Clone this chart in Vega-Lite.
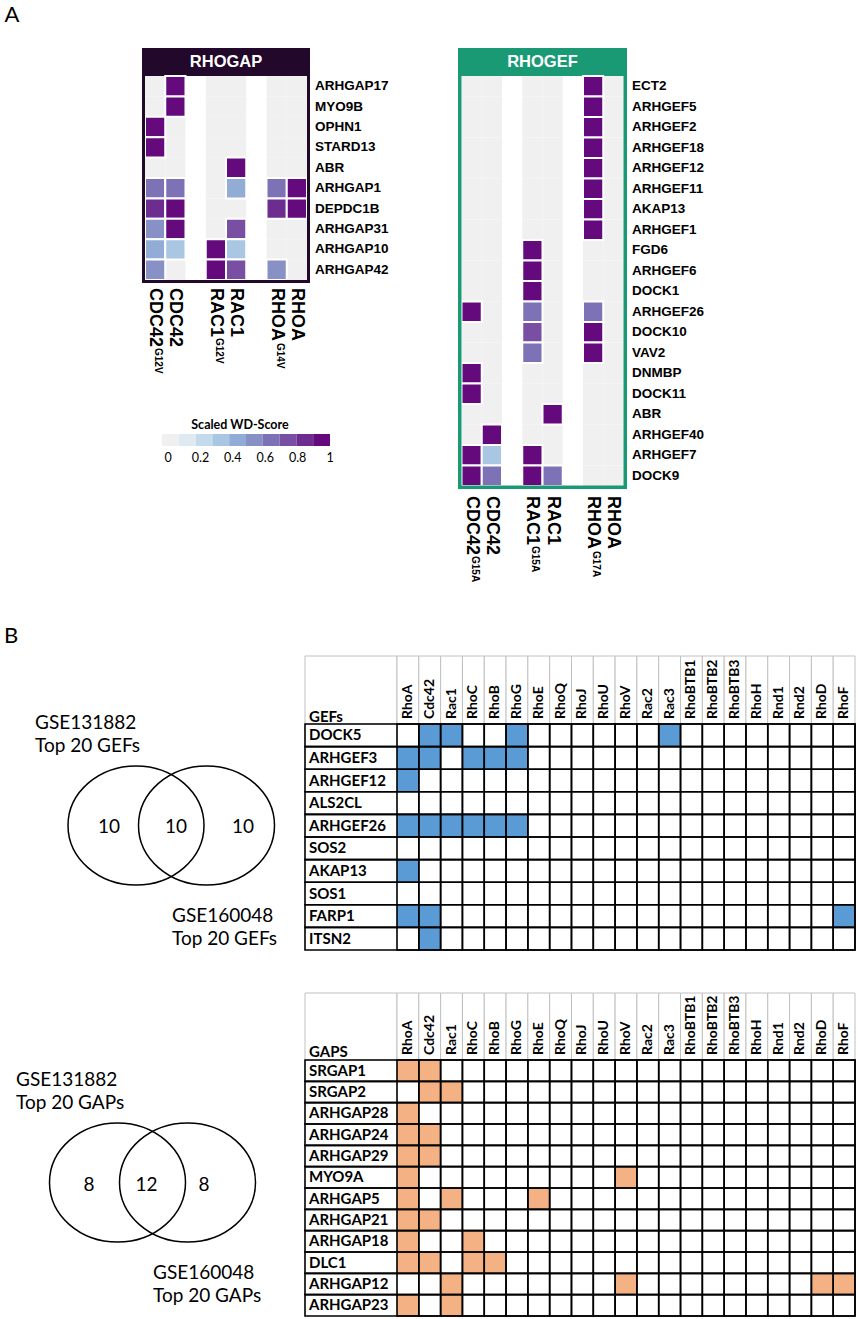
{
"$schema":"https://vega.github.io/schema/vega-lite/v6.json",
"width":858,"height":1319,
"autosize":{"type":"none"},
"padding":0,
"background":"white",
"config":{"view":{"stroke":null}},
"resolve":{"scale":{"x":"independent","y":"independent","color":"independent"}},
"datasets":{
"gapCells":[
{"gene":"ARHGAP17","col":"CDC42 G12V","v":0},{"gene":"ARHGAP17","col":"CDC42","v":1},{"gene":"ARHGAP17","col":"RAC1 G12V","v":0},{"gene":"ARHGAP17","col":"RAC1","v":0},{"gene":"ARHGAP17","col":"RHOA G14V","v":0},{"gene":"ARHGAP17","col":"RHOA","v":0},
{"gene":"MYO9B","col":"CDC42 G12V","v":0},{"gene":"MYO9B","col":"CDC42","v":1},{"gene":"MYO9B","col":"RAC1 G12V","v":0},{"gene":"MYO9B","col":"RAC1","v":0},{"gene":"MYO9B","col":"RHOA G14V","v":0},{"gene":"MYO9B","col":"RHOA","v":0},
{"gene":"OPHN1","col":"CDC42 G12V","v":1},{"gene":"OPHN1","col":"CDC42","v":0},{"gene":"OPHN1","col":"RAC1 G12V","v":0},{"gene":"OPHN1","col":"RAC1","v":0},{"gene":"OPHN1","col":"RHOA G14V","v":0},{"gene":"OPHN1","col":"RHOA","v":0},
{"gene":"STARD13","col":"CDC42 G12V","v":1},{"gene":"STARD13","col":"CDC42","v":0},{"gene":"STARD13","col":"RAC1 G12V","v":0},{"gene":"STARD13","col":"RAC1","v":0},{"gene":"STARD13","col":"RHOA G14V","v":0},{"gene":"STARD13","col":"RHOA","v":0},
{"gene":"ABR","col":"CDC42 G12V","v":0},{"gene":"ABR","col":"CDC42","v":0},{"gene":"ABR","col":"RAC1 G12V","v":0},{"gene":"ABR","col":"RAC1","v":1},{"gene":"ABR","col":"RHOA G14V","v":0},{"gene":"ABR","col":"RHOA","v":0},
{"gene":"ARHGAP1","col":"CDC42 G12V","v":0.68},{"gene":"ARHGAP1","col":"CDC42","v":0.62},{"gene":"ARHGAP1","col":"RAC1 G12V","v":0},{"gene":"ARHGAP1","col":"RAC1","v":0.4},{"gene":"ARHGAP1","col":"RHOA G14V","v":0.68},{"gene":"ARHGAP1","col":"RHOA","v":1},
{"gene":"DEPDC1B","col":"CDC42 G12V","v":0.82},{"gene":"DEPDC1B","col":"CDC42","v":1},{"gene":"DEPDC1B","col":"RAC1 G12V","v":0},{"gene":"DEPDC1B","col":"RAC1","v":0},{"gene":"DEPDC1B","col":"RHOA G14V","v":0.82},{"gene":"DEPDC1B","col":"RHOA","v":1},
{"gene":"ARHGAP31","col":"CDC42 G12V","v":0.52},{"gene":"ARHGAP31","col":"CDC42","v":1},{"gene":"ARHGAP31","col":"RAC1 G12V","v":0},{"gene":"ARHGAP31","col":"RAC1","v":0.75},{"gene":"ARHGAP31","col":"RHOA G14V","v":0},{"gene":"ARHGAP31","col":"RHOA","v":0},
{"gene":"ARHGAP10","col":"CDC42 G12V","v":0.45},{"gene":"ARHGAP10","col":"CDC42","v":0.32},{"gene":"ARHGAP10","col":"RAC1 G12V","v":1},{"gene":"ARHGAP10","col":"RAC1","v":0.38},{"gene":"ARHGAP10","col":"RHOA G14V","v":0},{"gene":"ARHGAP10","col":"RHOA","v":0},
{"gene":"ARHGAP42","col":"CDC42 G12V","v":0.55},{"gene":"ARHGAP42","col":"CDC42","v":0},{"gene":"ARHGAP42","col":"RAC1 G12V","v":1},{"gene":"ARHGAP42","col":"RAC1","v":0.75},{"gene":"ARHGAP42","col":"RHOA G14V","v":0.55},{"gene":"ARHGAP42","col":"RHOA","v":0}
],
"gefCells":[
{"gene":"ECT2","col":"CDC42 G15A","v":0},{"gene":"ECT2","col":"CDC42","v":0},{"gene":"ECT2","col":"RAC1 G15A","v":0},{"gene":"ECT2","col":"RAC1","v":0},{"gene":"ECT2","col":"RHOA G17A","v":1},{"gene":"ECT2","col":"RHOA","v":0},
{"gene":"ARHGEF5","col":"CDC42 G15A","v":0},{"gene":"ARHGEF5","col":"CDC42","v":0},{"gene":"ARHGEF5","col":"RAC1 G15A","v":0},{"gene":"ARHGEF5","col":"RAC1","v":0},{"gene":"ARHGEF5","col":"RHOA G17A","v":1},{"gene":"ARHGEF5","col":"RHOA","v":0},
{"gene":"ARHGEF2","col":"CDC42 G15A","v":0},{"gene":"ARHGEF2","col":"CDC42","v":0},{"gene":"ARHGEF2","col":"RAC1 G15A","v":0},{"gene":"ARHGEF2","col":"RAC1","v":0},{"gene":"ARHGEF2","col":"RHOA G17A","v":1},{"gene":"ARHGEF2","col":"RHOA","v":0},
{"gene":"ARHGEF18","col":"CDC42 G15A","v":0},{"gene":"ARHGEF18","col":"CDC42","v":0},{"gene":"ARHGEF18","col":"RAC1 G15A","v":0},{"gene":"ARHGEF18","col":"RAC1","v":0},{"gene":"ARHGEF18","col":"RHOA G17A","v":1},{"gene":"ARHGEF18","col":"RHOA","v":0},
{"gene":"ARHGEF12","col":"CDC42 G15A","v":0},{"gene":"ARHGEF12","col":"CDC42","v":0},{"gene":"ARHGEF12","col":"RAC1 G15A","v":0},{"gene":"ARHGEF12","col":"RAC1","v":0},{"gene":"ARHGEF12","col":"RHOA G17A","v":1},{"gene":"ARHGEF12","col":"RHOA","v":0},
{"gene":"ARHGEF11","col":"CDC42 G15A","v":0},{"gene":"ARHGEF11","col":"CDC42","v":0},{"gene":"ARHGEF11","col":"RAC1 G15A","v":0},{"gene":"ARHGEF11","col":"RAC1","v":0},{"gene":"ARHGEF11","col":"RHOA G17A","v":1},{"gene":"ARHGEF11","col":"RHOA","v":0},
{"gene":"AKAP13","col":"CDC42 G15A","v":0},{"gene":"AKAP13","col":"CDC42","v":0},{"gene":"AKAP13","col":"RAC1 G15A","v":0},{"gene":"AKAP13","col":"RAC1","v":0},{"gene":"AKAP13","col":"RHOA G17A","v":1},{"gene":"AKAP13","col":"RHOA","v":0},
{"gene":"ARHGEF1","col":"CDC42 G15A","v":0},{"gene":"ARHGEF1","col":"CDC42","v":0},{"gene":"ARHGEF1","col":"RAC1 G15A","v":0},{"gene":"ARHGEF1","col":"RAC1","v":0},{"gene":"ARHGEF1","col":"RHOA G17A","v":1},{"gene":"ARHGEF1","col":"RHOA","v":0},
{"gene":"FGD6","col":"CDC42 G15A","v":0},{"gene":"FGD6","col":"CDC42","v":0},{"gene":"FGD6","col":"RAC1 G15A","v":1},{"gene":"FGD6","col":"RAC1","v":0},{"gene":"FGD6","col":"RHOA G17A","v":0},{"gene":"FGD6","col":"RHOA","v":0},
{"gene":"ARHGEF6","col":"CDC42 G15A","v":0},{"gene":"ARHGEF6","col":"CDC42","v":0},{"gene":"ARHGEF6","col":"RAC1 G15A","v":1},{"gene":"ARHGEF6","col":"RAC1","v":0},{"gene":"ARHGEF6","col":"RHOA G17A","v":0},{"gene":"ARHGEF6","col":"RHOA","v":0},
{"gene":"DOCK1","col":"CDC42 G15A","v":0},{"gene":"DOCK1","col":"CDC42","v":0},{"gene":"DOCK1","col":"RAC1 G15A","v":1},{"gene":"DOCK1","col":"RAC1","v":0},{"gene":"DOCK1","col":"RHOA G17A","v":0},{"gene":"DOCK1","col":"RHOA","v":0},
{"gene":"ARHGEF26","col":"CDC42 G15A","v":1},{"gene":"ARHGEF26","col":"CDC42","v":0},{"gene":"ARHGEF26","col":"RAC1 G15A","v":0.65},{"gene":"ARHGEF26","col":"RAC1","v":0},{"gene":"ARHGEF26","col":"RHOA G17A","v":0.65},{"gene":"ARHGEF26","col":"RHOA","v":0},
{"gene":"DOCK10","col":"CDC42 G15A","v":0},{"gene":"DOCK10","col":"CDC42","v":0},{"gene":"DOCK10","col":"RAC1 G15A","v":0.75},{"gene":"DOCK10","col":"RAC1","v":0},{"gene":"DOCK10","col":"RHOA G17A","v":1},{"gene":"DOCK10","col":"RHOA","v":0},
{"gene":"VAV2","col":"CDC42 G15A","v":0},{"gene":"VAV2","col":"CDC42","v":0},{"gene":"VAV2","col":"RAC1 G15A","v":0.6},{"gene":"VAV2","col":"RAC1","v":0},{"gene":"VAV2","col":"RHOA G17A","v":1},{"gene":"VAV2","col":"RHOA","v":0},
{"gene":"DNMBP","col":"CDC42 G15A","v":1},{"gene":"DNMBP","col":"CDC42","v":0},{"gene":"DNMBP","col":"RAC1 G15A","v":0},{"gene":"DNMBP","col":"RAC1","v":0},{"gene":"DNMBP","col":"RHOA G17A","v":0},{"gene":"DNMBP","col":"RHOA","v":0},
{"gene":"DOCK11","col":"CDC42 G15A","v":1},{"gene":"DOCK11","col":"CDC42","v":0},{"gene":"DOCK11","col":"RAC1 G15A","v":0},{"gene":"DOCK11","col":"RAC1","v":0},{"gene":"DOCK11","col":"RHOA G17A","v":0},{"gene":"DOCK11","col":"RHOA","v":0},
{"gene":"ABR","col":"CDC42 G15A","v":0},{"gene":"ABR","col":"CDC42","v":0},{"gene":"ABR","col":"RAC1 G15A","v":0},{"gene":"ABR","col":"RAC1","v":1},{"gene":"ABR","col":"RHOA G17A","v":0},{"gene":"ABR","col":"RHOA","v":0},
{"gene":"ARHGEF40","col":"CDC42 G15A","v":0},{"gene":"ARHGEF40","col":"CDC42","v":1},{"gene":"ARHGEF40","col":"RAC1 G15A","v":0},{"gene":"ARHGEF40","col":"RAC1","v":0},{"gene":"ARHGEF40","col":"RHOA G17A","v":0},{"gene":"ARHGEF40","col":"RHOA","v":0},
{"gene":"ARHGEF7","col":"CDC42 G15A","v":1},{"gene":"ARHGEF7","col":"CDC42","v":0.35},{"gene":"ARHGEF7","col":"RAC1 G15A","v":1},{"gene":"ARHGEF7","col":"RAC1","v":0},{"gene":"ARHGEF7","col":"RHOA G17A","v":0},{"gene":"ARHGEF7","col":"RHOA","v":0},
{"gene":"DOCK9","col":"CDC42 G15A","v":1},{"gene":"DOCK9","col":"CDC42","v":0.6},{"gene":"DOCK9","col":"RAC1 G15A","v":1},{"gene":"DOCK9","col":"RAC1","v":0.62},{"gene":"DOCK9","col":"RHOA G17A","v":0},{"gene":"DOCK9","col":"RHOA","v":0}
],
"gapCols":[{"col":"CDC42 G12V","base":"CDC42","mut":"G12V"},{"col":"CDC42","base":"CDC42","mut":""},{"col":"RAC1 G12V","base":"RAC1","mut":"G12V"},{"col":"RAC1","base":"RAC1","mut":""},{"col":"RHOA G14V","base":"RHOA","mut":"G14V"},{"col":"RHOA","base":"RHOA","mut":""}],
"gefCols":[{"col":"CDC42 G15A","base":"CDC42","mut":"G15A"},{"col":"CDC42","base":"CDC42","mut":""},{"col":"RAC1 G15A","base":"RAC1","mut":"G15A"},{"col":"RAC1","base":"RAC1","mut":""},{"col":"RHOA G17A","base":"RHOA","mut":"G17A"},{"col":"RHOA","base":"RHOA","mut":""}],
"gtp":[{"c":"RhoA"},{"c":"Cdc42"},{"c":"Rac1"},{"c":"RhoC"},{"c":"RhoB"},{"c":"RhoG"},{"c":"RhoE"},{"c":"RhoQ"},{"c":"RhoJ"},{"c":"RhoU"},{"c":"RhoV"},{"c":"Rac2"},{"c":"Rac3"},{"c":"RhoBTB1"},{"c":"RhoBTB2"},{"c":"RhoBTB3"},{"c":"RhoH"},{"c":"Rnd1"},{"c":"Rnd2"},{"c":"RhoD"},{"c":"RhoF"}],
"gefGenes":[{"g":"DOCK5"},{"g":"ARHGEF3"},{"g":"ARHGEF12"},{"g":"ALS2CL"},{"g":"ARHGEF26"},{"g":"SOS2"},{"g":"AKAP13"},{"g":"SOS1"},{"g":"FARP1"},{"g":"ITSN2"}],
"gapGenes":[{"g":"SRGAP1"},{"g":"SRGAP2"},{"g":"ARHGAP28"},{"g":"ARHGAP24"},{"g":"ARHGAP29"},{"g":"MYO9A"},{"g":"ARHGAP5"},{"g":"ARHGAP21"},{"g":"ARHGAP18"},{"g":"DLC1"},{"g":"ARHGAP12"},{"g":"ARHGAP23"}],
"gefPos":[{"g":"DOCK5","c":"Cdc42"},{"g":"DOCK5","c":"Rac1"},{"g":"DOCK5","c":"RhoG"},{"g":"DOCK5","c":"Rac3"},
{"g":"ARHGEF3","c":"RhoA"},{"g":"ARHGEF3","c":"Cdc42"},{"g":"ARHGEF3","c":"RhoC"},{"g":"ARHGEF3","c":"RhoB"},{"g":"ARHGEF3","c":"RhoG"},
{"g":"ARHGEF12","c":"RhoA"},
{"g":"ARHGEF26","c":"RhoA"},{"g":"ARHGEF26","c":"Cdc42"},{"g":"ARHGEF26","c":"Rac1"},{"g":"ARHGEF26","c":"RhoC"},{"g":"ARHGEF26","c":"RhoB"},{"g":"ARHGEF26","c":"RhoG"},
{"g":"AKAP13","c":"RhoA"},
{"g":"FARP1","c":"RhoA"},{"g":"FARP1","c":"Cdc42"},{"g":"FARP1","c":"RhoF"},
{"g":"ITSN2","c":"Cdc42"}],
"gapPos":[{"g":"SRGAP1","c":"RhoA"},{"g":"SRGAP1","c":"Cdc42"},
{"g":"SRGAP2","c":"Cdc42"},{"g":"SRGAP2","c":"Rac1"},
{"g":"ARHGAP28","c":"RhoA"},
{"g":"ARHGAP24","c":"RhoA"},{"g":"ARHGAP24","c":"Cdc42"},
{"g":"ARHGAP29","c":"RhoA"},{"g":"ARHGAP29","c":"Cdc42"},
{"g":"MYO9A","c":"RhoA"},{"g":"MYO9A","c":"RhoV"},
{"g":"ARHGAP5","c":"RhoA"},{"g":"ARHGAP5","c":"Rac1"},{"g":"ARHGAP5","c":"RhoE"},
{"g":"ARHGAP21","c":"RhoA"},{"g":"ARHGAP21","c":"Cdc42"},
{"g":"ARHGAP18","c":"RhoA"},{"g":"ARHGAP18","c":"RhoC"},
{"g":"DLC1","c":"RhoA"},{"g":"DLC1","c":"Cdc42"},{"g":"DLC1","c":"RhoC"},{"g":"DLC1","c":"RhoB"},
{"g":"ARHGAP12","c":"Rac1"},{"g":"ARHGAP12","c":"RhoV"},{"g":"ARHGAP12","c":"RhoD"},{"g":"ARHGAP12","c":"RhoF"},
{"g":"ARHGAP23","c":"RhoA"},{"g":"ARHGAP23","c":"Rac1"}]
},
"layer":[
{"data":{"values":[{"panel":"A"},{"panel":"B"}]},"mark":{"type":"text","font":"Lato","fontSize":22,"color":"black","baseline":"middle","align":"center"},
 "encoding":{"text":{"field":"panel"},"x":{"field":"panel","type":"nominal","scale":{"type":"point","domain":["A","B"],"range":[12,11],"padding":0},"axis":null},"y":{"field":"panel","type":"nominal","scale":{"type":"point","domain":["A","B"],"range":[15,636],"padding":0},"axis":null}}},

{"data":{"values":[{"panel":"RHOGAP"}]},"mark":{"type":"rect","fill":"#22082b"},
 "encoding":{"x":{"field":"panel","type":"nominal","scale":{"type":"band","domain":["RHOGAP"],"range":[142,310],"paddingInner":0,"paddingOuter":0},"axis":null},"y":{"field":"panel","type":"nominal","scale":{"type":"band","domain":["RHOGAP"],"range":[48,76],"paddingInner":0,"paddingOuter":0},"axis":null}}},
{"data":{"values":[{"panel":"RHOGAP"}]},"mark":{"type":"text","color":"white","font":"Liberation Sans","fontWeight":"bold","fontSize":16.5,"baseline":"middle","align":"center"},
 "encoding":{"text":{"field":"panel"},"x":{"field":"panel","type":"nominal","scale":{"type":"band","domain":["RHOGAP"],"range":[142,310],"paddingInner":0,"paddingOuter":0},"axis":null},"y":{"field":"panel","type":"nominal","scale":{"type":"band","domain":["RHOGAP"],"range":[48,76],"paddingInner":0,"paddingOuter":0},"axis":null}}},
{"data":{"name":"gapCells"},"transform":[{"filter":"datum.v==0"}],"mark":{"type":"rect"},
 "encoding":{"x":{"field":"col","type":"nominal","scale":{"type":"band","domain":["CDC42 G12V","CDC42","gap1","RAC1 G12V","RAC1","gap2","RHOA G14V","RHOA"],"range":[145,307],"paddingInner":0,"paddingOuter":0},"axis":null},
  "y":{"field":"gene","type":"nominal","scale":{"type":"band","domain":["ARHGAP17","MYO9B","OPHN1","STARD13","ABR","ARHGAP1","DEPDC1B","ARHGAP31","ARHGAP10","ARHGAP42"],"range":[76,280],"paddingInner":0,"paddingOuter":0},"axis":null},
  "color":{"field":"v","type":"quantitative","scale":{"type":"quantize","domain":[0,1],"nice":false,"zero":false,"range":["#f0f0f0","#dfe9f1","#c4dbeb","#a9c6e2","#93acd5","#8791c6","#7e72b6","#784fa2","#6d2c90","#640a7c"]},"legend":null}}},
{"data":{"name":"gapCells"},"transform":[{"filter":"datum.v>0"}],"mark":{"type":"rect","stroke":"white","strokeWidth":2},
 "encoding":{"x":{"field":"col","type":"nominal","scale":{"type":"band","domain":["CDC42 G12V","CDC42","gap1","RAC1 G12V","RAC1","gap2","RHOA G14V","RHOA"],"range":[145,307],"paddingInner":0,"paddingOuter":0},"axis":null},
  "y":{"field":"gene","type":"nominal","scale":{"type":"band","domain":["ARHGAP17","MYO9B","OPHN1","STARD13","ABR","ARHGAP1","DEPDC1B","ARHGAP31","ARHGAP10","ARHGAP42"],"range":[76,280],"paddingInner":0,"paddingOuter":0},"axis":null},
  "color":{"field":"v","type":"quantitative","scale":{"type":"quantize","domain":[0,1],"nice":false,"zero":false,"range":["#f0f0f0","#dfe9f1","#c4dbeb","#a9c6e2","#93acd5","#8791c6","#7e72b6","#784fa2","#6d2c90","#640a7c"]},"legend":null}}},
{"data":{"values":[{"panel":"RHOGAP"}]},"mark":{"type":"rect","fill":"transparent","stroke":"#22082b","strokeWidth":3},
 "encoding":{"x":{"field":"panel","type":"nominal","scale":{"type":"band","domain":["RHOGAP"],"range":[143.5,308.5],"paddingInner":0,"paddingOuter":0},"axis":null},"y":{"field":"panel","type":"nominal","scale":{"type":"band","domain":["RHOGAP"],"range":[49.5,281.5],"paddingInner":0,"paddingOuter":0},"axis":null}}},
{"data":{"name":"gapCells"},"transform":[{"filter":"datum.col=='RHOA'"}],"mark":{"type":"text","align":"left","baseline":"middle","font":"Liberation Sans","fontWeight":"bold","fontSize":13.5,"color":"black"},
 "encoding":{"text":{"field":"gene"},"x":{"datum":"labels","type":"nominal","scale":{"type":"point","domain":["labels"],"range":[315,315],"padding":0},"axis":null},
  "y":{"field":"gene","type":"nominal","scale":{"type":"band","domain":["ARHGAP17","MYO9B","OPHN1","STARD13","ABR","ARHGAP1","DEPDC1B","ARHGAP31","ARHGAP10","ARHGAP42"],"range":[76,280],"paddingInner":0,"paddingOuter":0},"axis":null}}},
{"data":{"name":"gapCols"},"mark":{"type":"text","angle":90,"align":"left","baseline":"middle","font":"Liberation Sans","fontWeight":"bold","fontSize":18,"color":"black"},
 "encoding":{"text":{"field":"base"},"x":{"field":"col","type":"nominal","scale":{"type":"band","domain":["CDC42 G12V","CDC42","gap1","RAC1 G12V","RAC1","gap2","RHOA G14V","RHOA"],"range":[145,307],"paddingInner":0,"paddingOuter":0},"axis":null},
  "y":{"datum":"labels","type":"nominal","scale":{"type":"point","domain":["labels"],"range":[288,288],"padding":0},"axis":null}}},
{"data":{"name":"gapCols"},"transform":[{"filter":"datum.mut!=''"}],"mark":{"type":"text","angle":90,"align":"left","baseline":"middle","font":"Liberation Sans","fontWeight":"bold","fontSize":10,"dy":-3,"color":"black"},
 "encoding":{"text":{"field":"mut"},"x":{"field":"col","type":"nominal","scale":{"type":"band","domain":["CDC42 G12V","CDC42","gap1","RAC1 G12V","RAC1","gap2","RHOA G14V","RHOA"],"range":[145,307],"paddingInner":0,"paddingOuter":0},"axis":null},
  "y":{"field":"base","type":"nominal","scale":{"type":"point","domain":["RAC1","RHOA","CDC42"],"range":[338,348],"padding":0},"axis":null}}},

{"data":{"values":[{"panel":"RHOGEF"}]},"mark":{"type":"rect","fill":"#1a9a74"},
 "encoding":{"x":{"field":"panel","type":"nominal","scale":{"type":"band","domain":["RHOGEF"],"range":[458,627],"paddingInner":0,"paddingOuter":0},"axis":null},"y":{"field":"panel","type":"nominal","scale":{"type":"band","domain":["RHOGEF"],"range":[48,76],"paddingInner":0,"paddingOuter":0},"axis":null}}},
{"data":{"values":[{"panel":"RHOGEF"}]},"mark":{"type":"text","color":"white","font":"Liberation Sans","fontWeight":"bold","fontSize":16.5,"baseline":"middle","align":"center"},
 "encoding":{"text":{"field":"panel"},"x":{"field":"panel","type":"nominal","scale":{"type":"band","domain":["RHOGEF"],"range":[458,627],"paddingInner":0,"paddingOuter":0},"axis":null},"y":{"field":"panel","type":"nominal","scale":{"type":"band","domain":["RHOGEF"],"range":[48,76],"paddingInner":0,"paddingOuter":0},"axis":null}}},
{"data":{"name":"gefCells"},"transform":[{"filter":"datum.v==0"}],"mark":{"type":"rect"},
 "encoding":{"x":{"field":"col","type":"nominal","scale":{"type":"band","domain":["CDC42 G15A","CDC42","gap1","RAC1 G15A","RAC1","gap2","RHOA G17A","RHOA"],"range":[461.5,623.5],"paddingInner":0,"paddingOuter":0},"axis":null},
  "y":{"field":"gene","type":"nominal","scale":{"type":"band","domain":["ECT2","ARHGEF5","ARHGEF2","ARHGEF18","ARHGEF12","ARHGEF11","AKAP13","ARHGEF1","FGD6","ARHGEF6","DOCK1","ARHGEF26","DOCK10","VAV2","DNMBP","DOCK11","ABR","ARHGEF40","ARHGEF7","DOCK9"],"range":[76,486],"paddingInner":0,"paddingOuter":0},"axis":null},
  "color":{"field":"v","type":"quantitative","scale":{"type":"quantize","domain":[0,1],"nice":false,"zero":false,"range":["#f0f0f0","#dfe9f1","#c4dbeb","#a9c6e2","#93acd5","#8791c6","#7e72b6","#784fa2","#6d2c90","#640a7c"]},"legend":null}}},
{"data":{"name":"gefCells"},"transform":[{"filter":"datum.v>0"}],"mark":{"type":"rect","stroke":"white","strokeWidth":2},
 "encoding":{"x":{"field":"col","type":"nominal","scale":{"type":"band","domain":["CDC42 G15A","CDC42","gap1","RAC1 G15A","RAC1","gap2","RHOA G17A","RHOA"],"range":[461.5,623.5],"paddingInner":0,"paddingOuter":0},"axis":null},
  "y":{"field":"gene","type":"nominal","scale":{"type":"band","domain":["ECT2","ARHGEF5","ARHGEF2","ARHGEF18","ARHGEF12","ARHGEF11","AKAP13","ARHGEF1","FGD6","ARHGEF6","DOCK1","ARHGEF26","DOCK10","VAV2","DNMBP","DOCK11","ABR","ARHGEF40","ARHGEF7","DOCK9"],"range":[76,486],"paddingInner":0,"paddingOuter":0},"axis":null},
  "color":{"field":"v","type":"quantitative","scale":{"type":"quantize","domain":[0,1],"nice":false,"zero":false,"range":["#f0f0f0","#dfe9f1","#c4dbeb","#a9c6e2","#93acd5","#8791c6","#7e72b6","#784fa2","#6d2c90","#640a7c"]},"legend":null}}},
{"data":{"values":[{"panel":"RHOGEF"}]},"mark":{"type":"rect","fill":"transparent","stroke":"#1a9a74","strokeWidth":3.5},
 "encoding":{"x":{"field":"panel","type":"nominal","scale":{"type":"band","domain":["RHOGEF"],"range":[459.75,625.25],"paddingInner":0,"paddingOuter":0},"axis":null},"y":{"field":"panel","type":"nominal","scale":{"type":"band","domain":["RHOGEF"],"range":[49.75,487.25],"paddingInner":0,"paddingOuter":0},"axis":null}}},
{"data":{"name":"gefCells"},"transform":[{"filter":"datum.col=='RHOA'"}],"mark":{"type":"text","align":"left","baseline":"middle","font":"Liberation Sans","fontWeight":"bold","fontSize":13.5,"color":"black"},
 "encoding":{"text":{"field":"gene"},"x":{"datum":"labels","type":"nominal","scale":{"type":"point","domain":["labels"],"range":[632,632],"padding":0},"axis":null},
  "y":{"field":"gene","type":"nominal","scale":{"type":"band","domain":["ECT2","ARHGEF5","ARHGEF2","ARHGEF18","ARHGEF12","ARHGEF11","AKAP13","ARHGEF1","FGD6","ARHGEF6","DOCK1","ARHGEF26","DOCK10","VAV2","DNMBP","DOCK11","ABR","ARHGEF40","ARHGEF7","DOCK9"],"range":[76,486],"paddingInner":0,"paddingOuter":0},"axis":null}}},
{"data":{"name":"gefCols"},"mark":{"type":"text","angle":90,"align":"left","baseline":"middle","font":"Liberation Sans","fontWeight":"bold","fontSize":18,"color":"black"},
 "encoding":{"text":{"field":"base"},"x":{"field":"col","type":"nominal","scale":{"type":"band","domain":["CDC42 G15A","CDC42","gap1","RAC1 G15A","RAC1","gap2","RHOA G17A","RHOA"],"range":[461.5,623.5],"paddingInner":0,"paddingOuter":0},"axis":null},
  "y":{"datum":"labels","type":"nominal","scale":{"type":"point","domain":["labels"],"range":[496,496],"padding":0},"axis":null}}},
{"data":{"name":"gefCols"},"transform":[{"filter":"datum.mut!=''"}],"mark":{"type":"text","angle":90,"align":"left","baseline":"middle","font":"Liberation Sans","fontWeight":"bold","fontSize":10,"dy":-3,"color":"black"},
 "encoding":{"text":{"field":"mut"},"x":{"field":"col","type":"nominal","scale":{"type":"band","domain":["CDC42 G15A","CDC42","gap1","RAC1 G15A","RAC1","gap2","RHOA G17A","RHOA"],"range":[461.5,623.5],"paddingInner":0,"paddingOuter":0},"axis":null},
  "y":{"field":"base","type":"nominal","scale":{"type":"point","domain":["RAC1","RHOA","CDC42"],"range":[546,556],"padding":0},"axis":null}}},

{"data":{"values":[{"lo":0,"hi":0.1,"v":0.05},{"lo":0.1,"hi":0.2,"v":0.15},{"lo":0.2,"hi":0.3,"v":0.25},{"lo":0.3,"hi":0.4,"v":0.35},{"lo":0.4,"hi":0.5,"v":0.45},{"lo":0.5,"hi":0.6,"v":0.55},{"lo":0.6,"hi":0.7,"v":0.65},{"lo":0.7,"hi":0.8,"v":0.75},{"lo":0.8,"hi":0.9,"v":0.85},{"lo":0.9,"hi":1,"v":0.95}]},"mark":{"type":"rect"},
 "encoding":{"x":{"field":"lo","type":"quantitative","scale":{"domain":[0,1],"range":[162,330],"nice":false,"zero":false},"axis":null},"x2":{"field":"hi"},
  "y":{"datum":"bar","type":"nominal","scale":{"type":"band","domain":["bar"],"range":[434,446],"paddingInner":0,"paddingOuter":0},"axis":null},
  "color":{"field":"v","type":"quantitative","scale":{"type":"quantize","domain":[0,1],"nice":false,"zero":false,"range":["#f0f0f0","#dfe9f1","#c4dbeb","#a9c6e2","#93acd5","#8791c6","#7e72b6","#784fa2","#6d2c90","#640a7c"]},"legend":null}}},
{"data":{"values":[{"t":"Scaled WD-Score"}]},"mark":{"type":"text","font":"Lato","fontWeight":"bold","fontSize":12.5,"color":"black","align":"center","baseline":"middle"},
 "encoding":{"text":{"field":"t"},"x":{"datum":"title","type":"nominal","scale":{"type":"point","domain":["title"],"range":[240,240],"padding":0},"axis":null},"y":{"datum":"title","type":"nominal","scale":{"type":"point","domain":["title"],"range":[425,425],"padding":0},"axis":null}}},
{"data":{"values":[{"tick":0},{"tick":0.2},{"tick":0.4},{"tick":0.6},{"tick":0.8},{"tick":1}]},"mark":{"type":"text","font":"Lato","fontSize":12.5,"color":"black","align":"center","baseline":"middle"},
 "encoding":{"text":{"field":"tick","type":"quantitative","format":"~g"},"x":{"field":"tick","type":"quantitative","scale":{"domain":[0,1],"range":[168,330],"nice":false,"zero":false},"axis":null},"y":{"datum":"ticks","type":"nominal","scale":{"type":"point","domain":["ticks"],"range":[458,458],"padding":0},"axis":null}}},

{"data":{"values":[{"set":"GSE131882"},{"set":"GSE160048"}]},"mark":{"type":"point","shape":"M-1,0A1,0.875,0,1,1,1,0A1,0.875,0,1,1,-1,0Z","size":18496,"filled":false,"stroke":"black","strokeWidth":1.5,"opacity":1},
 "encoding":{"x":{"field":"set","type":"nominal","scale":{"type":"point","domain":["GSE131882","GSE160048"],"range":[136,206.5],"padding":0},"axis":null},"y":{"datum":"venn","type":"nominal","scale":{"type":"point","domain":["venn"],"range":[825.5,825.5],"padding":0},"axis":null}}},
{"data":{"values":[{"set":"GSE131882","label":"GSE131882\nTop 20 GEFs"},{"set":"GSE160048","label":"GSE160048\nTop 20 GEFs"}]},"mark":{"type":"text","align":"left","baseline":"top","lineBreak":"\n","lineHeight":23,"font":"Lato","fontSize":19,"color":"black"},
 "encoding":{"text":{"field":"label"},"x":{"field":"set","type":"nominal","scale":{"type":"point","domain":["GSE131882","GSE160048"],"range":[35,172],"padding":0},"axis":null},"y":{"field":"set","type":"nominal","scale":{"type":"point","domain":["GSE131882","GSE160048"],"range":[714,907],"padding":0},"axis":null}}},
{"data":{"values":[{"region":"GSE131882 only","n":10},{"region":"both","n":10},{"region":"GSE160048 only","n":10}]},"mark":{"type":"text","font":"Lato","fontSize":19,"baseline":"middle","align":"center","color":"black"},
 "encoding":{"text":{"field":"n"},"x":{"field":"region","type":"nominal","scale":{"type":"point","domain":["GSE131882 only","both","GSE160048 only"],"range":[109,243],"padding":0},"axis":null},"y":{"datum":"venn","type":"nominal","scale":{"type":"point","domain":["venn"],"range":[827,827],"padding":0},"axis":null}}},

{"data":{"values":[{"t":"GEFs"}]},"mark":{"type":"rect","fill":"white","stroke":"#c0c0c0","strokeWidth":1},
 "encoding":{"x":{"datum":"name","type":"nominal","scale":{"type":"band","domain":["name"],"range":[305,397],"paddingInner":0,"paddingOuter":0},"axis":null},"y":{"datum":"head","type":"nominal","scale":{"type":"band","domain":["head"],"range":[656,724],"paddingInner":0,"paddingOuter":0},"axis":null}}},
{"data":{"name":"gtp"},"mark":{"type":"rect","fill":"white","stroke":"#c0c0c0","strokeWidth":1},
 "encoding":{"x":{"field":"c","type":"nominal","scale":{"type":"band","domain":["RhoA","Cdc42","Rac1","RhoC","RhoB","RhoG","RhoE","RhoQ","RhoJ","RhoU","RhoV","Rac2","Rac3","RhoBTB1","RhoBTB2","RhoBTB3","RhoH","Rnd1","Rnd2","RhoD","RhoF"],"range":[397,855],"paddingInner":0,"paddingOuter":0},"axis":null},"y":{"datum":"head","type":"nominal","scale":{"type":"band","domain":["head"],"range":[656,724],"paddingInner":0,"paddingOuter":0},"axis":null}}},
{"data":{"values":[{"t":"GEFs"}]},"mark":{"type":"text","align":"left","baseline":"middle","font":"Lato","fontWeight":"bold","fontSize":15,"color":"black"},
 "encoding":{"text":{"field":"t"},"x":{"datum":"name","type":"nominal","scale":{"type":"point","domain":["name"],"range":[309,309],"padding":0},"axis":null},"y":{"datum":"head","type":"nominal","scale":{"type":"point","domain":["head"],"range":[717,717],"padding":0},"axis":null}}},
{"data":{"name":"gtp"},"mark":{"type":"text","angle":270,"align":"left","baseline":"middle","font":"Lato","fontWeight":"bold","fontSize":14,"color":"black"},
 "encoding":{"text":{"field":"c"},"x":{"field":"c","type":"nominal","scale":{"type":"band","domain":["RhoA","Cdc42","Rac1","RhoC","RhoB","RhoG","RhoE","RhoQ","RhoJ","RhoU","RhoV","Rac2","Rac3","RhoBTB1","RhoBTB2","RhoBTB3","RhoH","Rnd1","Rnd2","RhoD","RhoF"],"range":[397,855],"paddingInner":0,"paddingOuter":0},"axis":null},"y":{"datum":"head","type":"nominal","scale":{"type":"point","domain":["head"],"range":[719,719],"padding":0},"axis":null}}},
{"data":{"name":"gefPos"},"mark":{"type":"rect","fill":"#5b9bd5"},
 "encoding":{"x":{"field":"c","type":"nominal","scale":{"type":"band","domain":["RhoA","Cdc42","Rac1","RhoC","RhoB","RhoG","RhoE","RhoQ","RhoJ","RhoU","RhoV","Rac2","Rac3","RhoBTB1","RhoBTB2","RhoBTB3","RhoH","Rnd1","Rnd2","RhoD","RhoF"],"range":[397,855],"paddingInner":0,"paddingOuter":0},"axis":null},"y":{"field":"g","type":"nominal","scale":{"type":"band","domain":["DOCK5","ARHGEF3","ARHGEF12","ALS2CL","ARHGEF26","SOS2","AKAP13","SOS1","FARP1","ITSN2"],"range":[724,950],"paddingInner":0,"paddingOuter":0},"axis":null}}},
{"data":{"name":"gefGenes"},"mark":{"type":"rect","fill":"transparent","stroke":"black","strokeWidth":1.6},
 "encoding":{"x":{"datum":"all","type":"nominal","scale":{"type":"band","domain":["all"],"range":[305,855],"paddingInner":0,"paddingOuter":0},"axis":null},"y":{"field":"g","type":"nominal","scale":{"type":"band","domain":["DOCK5","ARHGEF3","ARHGEF12","ALS2CL","ARHGEF26","SOS2","AKAP13","SOS1","FARP1","ITSN2"],"range":[724,950],"paddingInner":0,"paddingOuter":0},"axis":null}}},
{"data":{"name":"gtp"},"mark":{"type":"rect","fill":"transparent","stroke":"black","strokeWidth":1.6},
 "encoding":{"x":{"field":"c","type":"nominal","scale":{"type":"band","domain":["RhoA","Cdc42","Rac1","RhoC","RhoB","RhoG","RhoE","RhoQ","RhoJ","RhoU","RhoV","Rac2","Rac3","RhoBTB1","RhoBTB2","RhoBTB3","RhoH","Rnd1","Rnd2","RhoD","RhoF"],"range":[397,855],"paddingInner":0,"paddingOuter":0},"axis":null},"y":{"datum":"grid","type":"nominal","scale":{"type":"band","domain":["grid"],"range":[724,950],"paddingInner":0,"paddingOuter":0},"axis":null}}},
{"data":{"name":"gefGenes"},"mark":{"type":"text","align":"left","baseline":"middle","font":"Lato","fontWeight":"bold","fontSize":15,"color":"black"},
 "encoding":{"text":{"field":"g"},"x":{"datum":"name","type":"nominal","scale":{"type":"point","domain":["name"],"range":[309,309],"padding":0},"axis":null},"y":{"field":"g","type":"nominal","scale":{"type":"band","domain":["DOCK5","ARHGEF3","ARHGEF12","ALS2CL","ARHGEF26","SOS2","AKAP13","SOS1","FARP1","ITSN2"],"range":[724,950],"paddingInner":0,"paddingOuter":0},"axis":null}}},

{"data":{"values":[{"set":"GSE131882"},{"set":"GSE160048"}]},"mark":{"type":"point","shape":"M-1,0A1,0.875,0,1,1,1,0A1,0.875,0,1,1,-1,0Z","size":18496,"filled":false,"stroke":"black","strokeWidth":1.5,"opacity":1},
 "encoding":{"x":{"field":"set","type":"nominal","scale":{"type":"point","domain":["GSE131882","GSE160048"],"range":[117.5,187.5],"padding":0},"axis":null},"y":{"datum":"venn","type":"nominal","scale":{"type":"point","domain":["venn"],"range":[1182.5,1182.5],"padding":0},"axis":null}}},
{"data":{"values":[{"set":"GSE131882","label":"GSE131882\nTop 20 GAPs"},{"set":"GSE160048","label":"GSE160048\nTop 20 GAPs"}]},"mark":{"type":"text","align":"left","baseline":"top","lineBreak":"\n","lineHeight":23,"font":"Lato","fontSize":19,"color":"black"},
 "encoding":{"text":{"field":"label"},"x":{"field":"set","type":"nominal","scale":{"type":"point","domain":["GSE131882","GSE160048"],"range":[16,153],"padding":0},"axis":null},"y":{"field":"set","type":"nominal","scale":{"type":"point","domain":["GSE131882","GSE160048"],"range":[1071,1264],"padding":0},"axis":null}}},
{"data":{"values":[{"region":"GSE131882 only","n":8},{"region":"both","n":12},{"region":"GSE160048 only","n":8}]},"mark":{"type":"text","font":"Lato","fontSize":19,"baseline":"middle","align":"center","color":"black"},
 "encoding":{"text":{"field":"n"},"x":{"field":"region","type":"nominal","scale":{"type":"point","domain":["GSE131882 only","both","GSE160048 only"],"range":[89,204],"padding":0},"axis":null},"y":{"datum":"venn","type":"nominal","scale":{"type":"point","domain":["venn"],"range":[1185,1185],"padding":0},"axis":null}}},

{"data":{"values":[{"t":"GAPS"}]},"mark":{"type":"rect","fill":"white","stroke":"#c0c0c0","strokeWidth":1},
 "encoding":{"x":{"datum":"name","type":"nominal","scale":{"type":"band","domain":["name"],"range":[305,397],"paddingInner":0,"paddingOuter":0},"axis":null},"y":{"datum":"head","type":"nominal","scale":{"type":"band","domain":["head"],"range":[993,1060],"paddingInner":0,"paddingOuter":0},"axis":null}}},
{"data":{"name":"gtp"},"mark":{"type":"rect","fill":"white","stroke":"#c0c0c0","strokeWidth":1},
 "encoding":{"x":{"field":"c","type":"nominal","scale":{"type":"band","domain":["RhoA","Cdc42","Rac1","RhoC","RhoB","RhoG","RhoE","RhoQ","RhoJ","RhoU","RhoV","Rac2","Rac3","RhoBTB1","RhoBTB2","RhoBTB3","RhoH","Rnd1","Rnd2","RhoD","RhoF"],"range":[397,855],"paddingInner":0,"paddingOuter":0},"axis":null},"y":{"datum":"head","type":"nominal","scale":{"type":"band","domain":["head"],"range":[993,1060],"paddingInner":0,"paddingOuter":0},"axis":null}}},
{"data":{"values":[{"t":"GAPS"}]},"mark":{"type":"text","align":"left","baseline":"middle","font":"Lato","fontWeight":"bold","fontSize":15,"color":"black"},
 "encoding":{"text":{"field":"t"},"x":{"datum":"name","type":"nominal","scale":{"type":"point","domain":["name"],"range":[309,309],"padding":0},"axis":null},"y":{"datum":"head","type":"nominal","scale":{"type":"point","domain":["head"],"range":[1052,1052],"padding":0},"axis":null}}},
{"data":{"name":"gtp"},"mark":{"type":"text","angle":270,"align":"left","baseline":"middle","font":"Lato","fontWeight":"bold","fontSize":14,"color":"black"},
 "encoding":{"text":{"field":"c"},"x":{"field":"c","type":"nominal","scale":{"type":"band","domain":["RhoA","Cdc42","Rac1","RhoC","RhoB","RhoG","RhoE","RhoQ","RhoJ","RhoU","RhoV","Rac2","Rac3","RhoBTB1","RhoBTB2","RhoBTB3","RhoH","Rnd1","Rnd2","RhoD","RhoF"],"range":[397,855],"paddingInner":0,"paddingOuter":0},"axis":null},"y":{"datum":"head","type":"nominal","scale":{"type":"point","domain":["head"],"range":[1055,1055],"padding":0},"axis":null}}},
{"data":{"name":"gapPos"},"mark":{"type":"rect","fill":"#f4b183"},
 "encoding":{"x":{"field":"c","type":"nominal","scale":{"type":"band","domain":["RhoA","Cdc42","Rac1","RhoC","RhoB","RhoG","RhoE","RhoQ","RhoJ","RhoU","RhoV","Rac2","Rac3","RhoBTB1","RhoBTB2","RhoBTB3","RhoH","Rnd1","Rnd2","RhoD","RhoF"],"range":[397,855],"paddingInner":0,"paddingOuter":0},"axis":null},"y":{"field":"g","type":"nominal","scale":{"type":"band","domain":["SRGAP1","SRGAP2","ARHGAP28","ARHGAP24","ARHGAP29","MYO9A","ARHGAP5","ARHGAP21","ARHGAP18","DLC1","ARHGAP12","ARHGAP23"],"range":[1060,1316],"paddingInner":0,"paddingOuter":0},"axis":null}}},
{"data":{"name":"gapGenes"},"mark":{"type":"rect","fill":"transparent","stroke":"black","strokeWidth":1.6},
 "encoding":{"x":{"datum":"all","type":"nominal","scale":{"type":"band","domain":["all"],"range":[305,855],"paddingInner":0,"paddingOuter":0},"axis":null},"y":{"field":"g","type":"nominal","scale":{"type":"band","domain":["SRGAP1","SRGAP2","ARHGAP28","ARHGAP24","ARHGAP29","MYO9A","ARHGAP5","ARHGAP21","ARHGAP18","DLC1","ARHGAP12","ARHGAP23"],"range":[1060,1316],"paddingInner":0,"paddingOuter":0},"axis":null}}},
{"data":{"name":"gtp"},"mark":{"type":"rect","fill":"transparent","stroke":"black","strokeWidth":1.6},
 "encoding":{"x":{"field":"c","type":"nominal","scale":{"type":"band","domain":["RhoA","Cdc42","Rac1","RhoC","RhoB","RhoG","RhoE","RhoQ","RhoJ","RhoU","RhoV","Rac2","Rac3","RhoBTB1","RhoBTB2","RhoBTB3","RhoH","Rnd1","Rnd2","RhoD","RhoF"],"range":[397,855],"paddingInner":0,"paddingOuter":0},"axis":null},"y":{"datum":"grid","type":"nominal","scale":{"type":"band","domain":["grid"],"range":[1060,1316],"paddingInner":0,"paddingOuter":0},"axis":null}}},
{"data":{"name":"gapGenes"},"mark":{"type":"text","align":"left","baseline":"middle","font":"Lato","fontWeight":"bold","fontSize":15,"color":"black"},
 "encoding":{"text":{"field":"g"},"x":{"datum":"name","type":"nominal","scale":{"type":"point","domain":["name"],"range":[309,309],"padding":0},"axis":null},"y":{"field":"g","type":"nominal","scale":{"type":"band","domain":["SRGAP1","SRGAP2","ARHGAP28","ARHGAP24","ARHGAP29","MYO9A","ARHGAP5","ARHGAP21","ARHGAP18","DLC1","ARHGAP12","ARHGAP23"],"range":[1060,1316],"paddingInner":0,"paddingOuter":0},"axis":null}}}
]
}
